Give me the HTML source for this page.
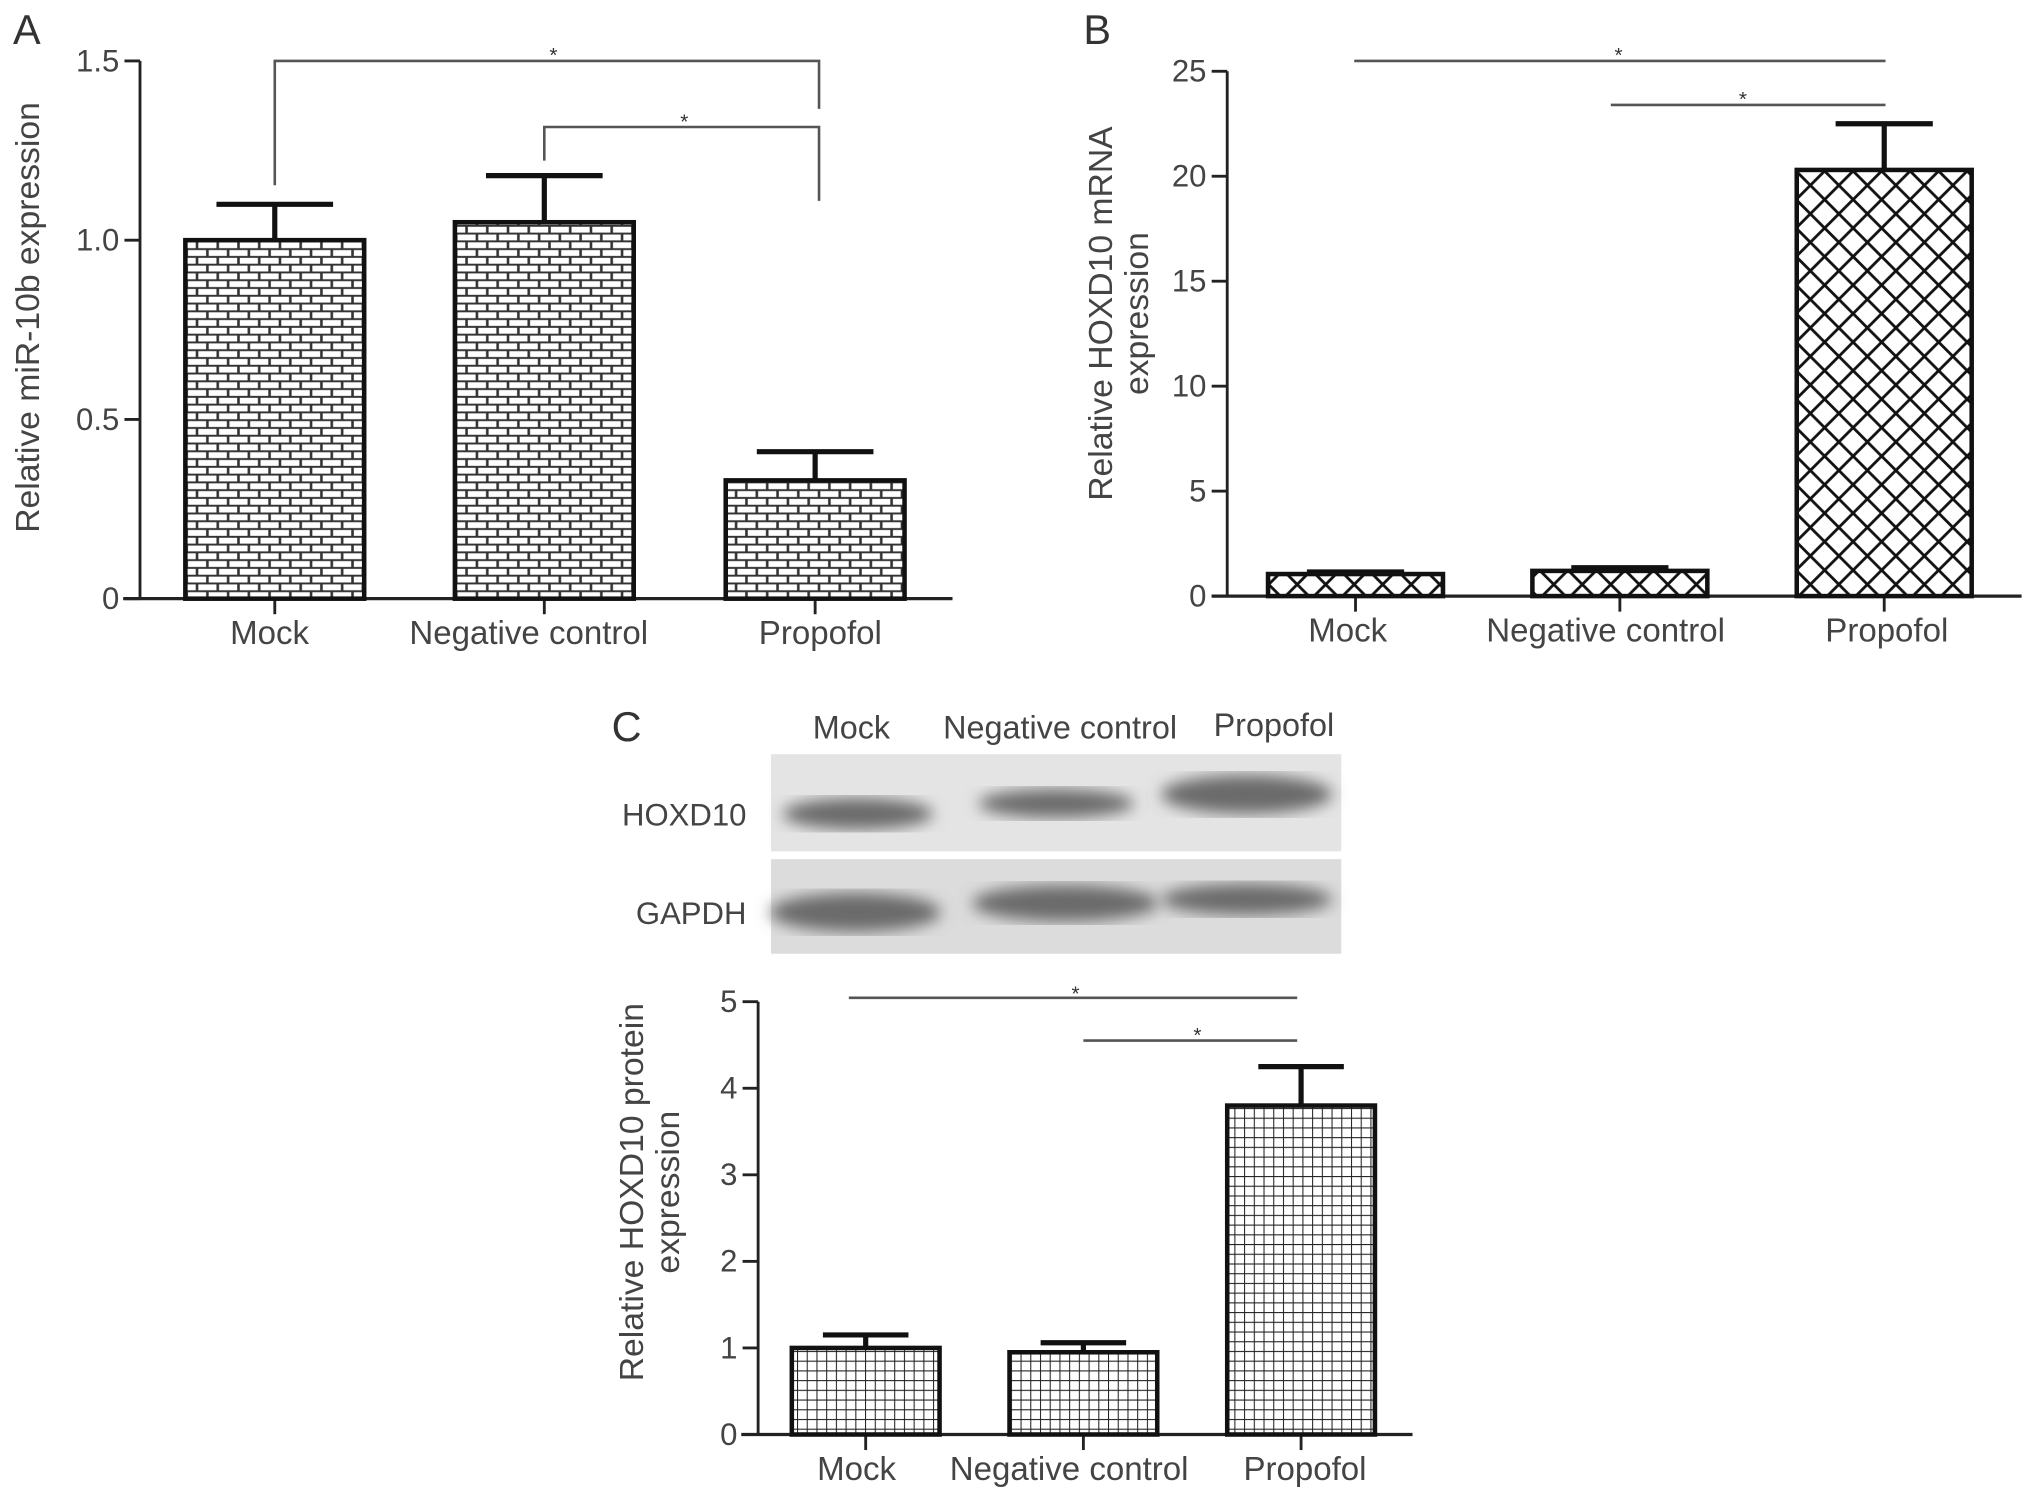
<!DOCTYPE html>
<html><head><meta charset="utf-8"><style>
html,body{margin:0;padding:0;background:#fff}
svg{display:block;font-family:"Liberation Sans",sans-serif}
</style></head><body>
<svg id="fig" width="2032" height="1498" viewBox="0 0 1568 1156" xmlns="http://www.w3.org/2000/svg">
<defs>
<pattern id="brick" patternUnits="userSpaceOnUse" width="16" height="12">
<rect width="16" height="12" fill="#333"/>
<rect x="1" y="1" width="14" height="4.5" fill="#fff"/>
<rect x="-7" y="7" width="14" height="4.5" fill="#fff"/>
<rect x="9" y="7" width="14" height="4.5" fill="#fff"/>
</pattern>
<pattern id="cross" patternUnits="userSpaceOnUse" width="22" height="22">
<rect width="22" height="22" fill="#fff"/>
<path d="M0 0L22 22M22 0L0 22M-11 11L0 22M11 -11L33 11M-11 11L11 -11M11 33L33 11" stroke="#111" stroke-width="2.2"/>
</pattern>
<pattern id="grid" patternUnits="userSpaceOnUse" width="7.5" height="7.5">
<rect width="7.5" height="7.5" fill="#fff"/>
<path d="M0 0H7.5M0 0V7.5" stroke="#222" stroke-width="1.6"/>
</pattern>
<filter id="blur"><feGaussianBlur stdDeviation="6"/></filter>
</defs>
<g id="root"></g>
</svg>
<script>
// Panel A data
const catsA = ["Mock", "Negative control", "Propofol"];
const valsA = [1.0, 1.05, 0.33];
const errA = [0.10, 0.13, 0.08];
const ticksA = [0, 0.5, 1.0, 1.5];
const tickLabelsA = ["0", "0.5", "1.0", "1.5"];
// Panel B data
const catsB = ["Mock", "Negative control", "Propofol"];
const valsB = [1.05, 1.2, 20.3];
const errB = [0.1, 0.15, 2.2];
const ticksB = [0, 5, 10, 15, 20, 25];
const tickLabelsB = ["0", "5", "10", "15", "20", "25"];
// Panel C data
const catsC = ["Mock", "Negative control", "Propofol"];
const valsC = [1.0, 0.95, 3.8];
const errC = [0.15, 0.11, 0.45];
const ticksC = [0, 1, 2, 3, 4, 5];
const tickLabelsC = ["0", "1", "2", "3", "4", "5"];

const NS = "http://www.w3.org/2000/svg";
const root = document.getElementById('root');
function mk(tag, attrs, parent, text) {
  const e = document.createElementNS(NS, tag);
  for (const k in attrs) e.setAttribute(k, attrs[k]);
  if (text !== undefined) e.textContent = text;
  (parent || root).appendChild(e);
  return e;
}

function chart(cfg) {
  const g = mk('g', {});
  
  
  const y = v => cfg.y0 - (v - cfg.min) / (cfg.max - cfg.min) * (cfg.y0 - cfg.y1);
  const cx = i => cfg.centers[i];
  const ya = mk('line', {x1: cfg.axisX, y1: y(cfg.max), x2: cfg.axisX, y2: cfg.y0, stroke: '#222', 'stroke-width': 2.2}, g);
  
  
  cfg.ticks.forEach((t, i) => {
    mk('line', {x1: cfg.axisX - 12, y1: y(t), x2: cfg.axisX, y2: y(t), stroke: '#222', 'stroke-width': 2.2}, g);
    const tl = mk('text', {x: cfg.axisX - 16, y: y(t) + 8, 'text-anchor': 'end', 'font-size': 24, fill: '#444'}, g, cfg.tickLabels[i]);
    
    
  });
  const xa = mk('line', {x1: cfg.xStart, y1: cfg.y0, x2: cfg.xEnd, y2: cfg.y0, stroke: '#222', 'stroke-width': 2.5}, g);
  
  
  cfg.cats.forEach((c, i) => {
    mk('line', {x1: cx(i), y1: cfg.y0, x2: cx(i), y2: cfg.y0 + 12, stroke: '#222', 'stroke-width': 2.2}, g);
    const xl = mk('text', {x: cfg.labelX[i], y: cfg.y0 + 35, 'text-anchor': 'middle', 'font-size': 25.5, fill: '#444'}, g, c);
    
    
    const top = cfg.vals[i] + cfg.err[i];
    const eb = mk('path', {d: `M${cx(i)} ${y(cfg.vals[i])}V${y(top)}M${cx(i) - cfg.capW / 2} ${y(top)}H${cx(i) + cfg.capW / 2}`, stroke: '#111', 'stroke-width': 4, fill: 'none'}, g);
    
    
    const b = mk('rect', {x: cx(i) - cfg.barW / 2, y: y(cfg.vals[i]), width: cfg.barW, height: cfg.y0 - y(cfg.vals[i]), fill: `url(#${cfg.pattern})`, stroke: '#111', 'stroke-width': 3.5}, g);
    
    
  });
  const tt = mk('text', {transform: `translate(${cfg.titleX},${cfg.titleY}) rotate(-90)`, 'text-anchor': 'middle', 'font-size': 26, fill: '#444'}, g);
  
  
  cfg.title.forEach((line, k) => {
    mk('tspan', {x: 0, dy: k === 0 ? (cfg.title.length > 1 ? -4 : 8) : 28}, tt, line);
  });
  return {g, y, cx};
}

const A = chart({name: 'chart-a', cats: catsA, vals: valsA, err: errA, ticks: ticksA, tickLabels: tickLabelsA,
  min: 0, max: 1.5, y0: 462, y1: 47, axisX: 108, xStart: 95, xEnd: 735, centers: [212, 420, 629], labelX: [208, 408, 633],
  barW: 138, capW: 90, pattern: 'brick', title: ['Relative miR-10b expression'], titleX: 22, titleY: 245});
mk('path', {d: `M${A.cx(0)} 143V47H632V84`, stroke: '#555', 'stroke-width': 2, fill: 'none'}, A.g);
mk('path', {d: `M${A.cx(1)} 124V98H632V155`, stroke: '#555', 'stroke-width': 2, fill: 'none'}, A.g);
mk('text', {x: 427, y: 48, 'font-size': 16, 'text-anchor': 'middle', fill: '#333'}, A.g, '*');
mk('text', {x: 528, y: 99, 'font-size': 16, 'text-anchor': 'middle', fill: '#333'}, A.g, '*');

const B = chart({name: 'chart-b', cats: catsB, vals: valsB, err: errB, ticks: ticksB, tickLabels: tickLabelsB,
  min: 0, max: 25, y0: 460, y1: 55, axisX: 947, xStart: 935, xEnd: 1560, centers: [1046, 1250, 1454], labelX: [1040, 1239, 1456],
  barW: 135, capW: 75, pattern: 'cross', title: ['Relative HOXD10 mRNA', 'expression'], titleX: 862, titleY: 242});
mk('line', {x1: 1045, y1: 47, x2: 1455, y2: 47, stroke: '#555', 'stroke-width': 2}, B.g);
mk('line', {x1: 1243, y1: 81, x2: 1455, y2: 81, stroke: '#555', 'stroke-width': 2}, B.g);
mk('text', {x: 1249, y: 48, 'font-size': 16, 'text-anchor': 'middle', fill: '#333'}, B.g, '*');
mk('text', {x: 1345, y: 82, 'font-size': 16, 'text-anchor': 'middle', fill: '#333'}, B.g, '*');

const C = chart({name: 'chart-c', cats: catsC, vals: valsC, err: errC, ticks: ticksC, tickLabels: tickLabelsC,
  min: 0, max: 5, y0: 1107, y1: 773, axisX: 585, xStart: 572, xEnd: 1090, centers: [668, 836, 1004], labelX: [661, 825, 1007],
  barW: 114, capW: 66, pattern: 'grid', title: ['Relative HOXD10 protein', 'expression'], titleX: 500, titleY: 920});
mk('line', {x1: 655, y1: 770, x2: 1001, y2: 770, stroke: '#555', 'stroke-width': 2}, C.g);
mk('line', {x1: 836, y1: 803, x2: 1001, y2: 803, stroke: '#555', 'stroke-width': 2}, C.g);
mk('text', {x: 830, y: 772, 'font-size': 16, 'text-anchor': 'middle', fill: '#333'}, C.g, '*');
mk('text', {x: 924, y: 804, 'font-size': 16, 'text-anchor': 'middle', fill: '#333'}, C.g, '*');

[['A', 10, 34], ['B', 836, 34], ['C', 472, 572]].forEach(p => {
  const t = mk('text', {x: p[1], y: p[2], 'font-size': 32, fill: '#333'}, root, p[0]);
  
  
});

const blot = mk('g', {});


[['Mock', 657, 570], ['Negative control', 818, 570], ['Propofol', 983, 568]].forEach(l => {
  const t = mk('text', {x: l[1], y: l[2], 'font-size': 25, 'text-anchor': 'middle', fill: '#444'}, blot, l[0]);
  
  
});
mk('rect', {x: 595, y: 582, width: 440, height: 75, fill: '#e4e4e4'}, blot);
mk('rect', {x: 595, y: 663, width: 440, height: 73, fill: '#dcdcdc'}, blot);
[[662, 628, 58, 12], [815, 620, 60, 11], [962, 613, 66, 15], [660, 704, 66, 15], [822, 697, 72, 14], [962, 694, 66, 12]].forEach(b => {
  mk('ellipse', {cx: b[0], cy: b[1], rx: b[2], ry: b[3], fill: '#6a6a6a', filter: 'url(#blur)'}, blot);
});
mk('text', {x: 576, y: 637, 'font-size': 24, 'text-anchor': 'end', fill: '#444'}, blot, 'HOXD10');
mk('text', {x: 576, y: 713, 'font-size': 24, 'text-anchor': 'end', fill: '#444'}, blot, 'GAPDH');
</script>
</body></html>
